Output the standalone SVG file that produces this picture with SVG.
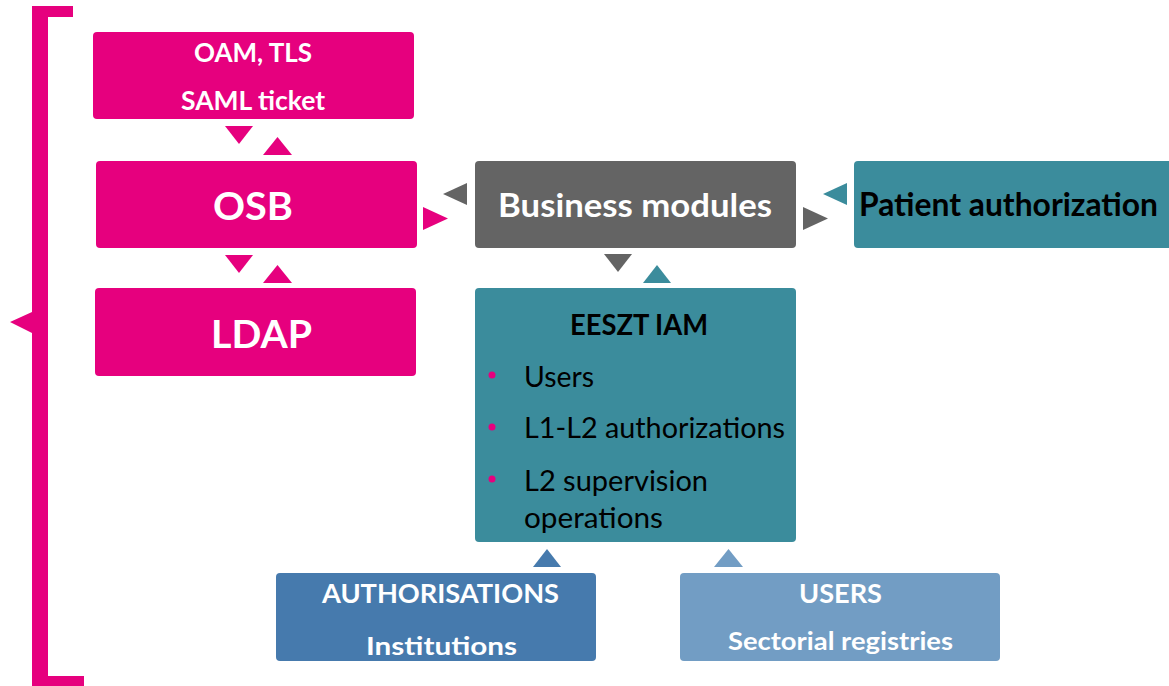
<svg xmlns="http://www.w3.org/2000/svg" width="1169" height="686" viewBox="0 0 1169 686">
<style>
.pink{fill:#E6007E}
.gray{fill:#646464}
.teal{fill:#3B8C9C}
.dblue{fill:#467AAD}
.lblue{fill:#729DC4}
text{font-family:Lato,"Liberation Sans",sans-serif}
.wb{fill:#fff;font-weight:bold}
.kb{fill:#000;font-weight:bold}
.kr{fill:#000;font-weight:normal}
</style>
<rect width="1169" height="686" fill="#fff"/>
<g id="bracket">
<path class="pink" d="M32,6 H73 V17 H48 V676 H84 V686 H32 V333 L10,322 L32,312 Z"/>
</g>
<g id="connectors">
<polygon class="pink" points="225,126 253,126 239,144"/>
<polygon class="pink" points="263,155 292,155 277.5,137"/>
<polygon class="pink" points="225,255 253,255 239,273"/>
<polygon class="pink" points="263,283 292,283 277.5,265"/>
<polygon class="pink" points="423,207 423,230 448,218.5"/>
<polygon class="gray" points="467,183 467,205 443,194"/>
<polygon class="gray" points="803,207 803,230 828,218.5"/>
<polygon class="teal" points="847,183 847,205 823,194"/>
<polygon class="gray" points="604,254 632,254 618,272"/>
<polygon class="teal" points="643,283 671,283 657,265"/>
<polygon class="dblue" points="533,567 561,567 547,549"/>
<polygon class="lblue" points="714,567 743,567 728.5,549"/>
</g>
<g id="oam">
<rect class="pink" x="93" y="32" width="321" height="87" rx="4"/>
<text class="wb" x="194" y="62" font-size="26" textLength="118" lengthAdjust="spacingAndGlyphs">OAM, TLS</text>
<text class="wb" x="181" y="110" font-size="26" textLength="144" lengthAdjust="spacingAndGlyphs">SAML ticket</text>
</g>
<g id="osb">
<rect class="pink" x="96" y="161" width="321" height="87" rx="4"/>
<text class="wb" x="213" y="220" font-size="39" textLength="80" lengthAdjust="spacingAndGlyphs">OSB</text>
</g>
<g id="ldap">
<rect class="pink" x="95" y="288" width="321" height="88" rx="4"/>
<text class="wb" x="211" y="348" font-size="39" textLength="101" lengthAdjust="spacingAndGlyphs">LDAP</text>
</g>
<g id="business">
<rect class="gray" x="475" y="161" width="321" height="87" rx="4"/>
<text class="wb" x="498" y="217" font-size="33" textLength="274" lengthAdjust="spacingAndGlyphs">Business modules</text>
</g>
<g id="patient">
<rect class="teal" x="854" y="161" width="330" height="87" rx="4"/>
<text class="kb" x="859" y="216" font-size="32" textLength="299" lengthAdjust="spacingAndGlyphs">Patient authorization</text>
</g>
<g id="eeszt">
<rect class="teal" x="475" y="288" width="321" height="254" rx="4"/>
<text class="kb" x="570" y="335" font-size="28" textLength="138" lengthAdjust="spacingAndGlyphs">EESZT IAM</text>
<circle class="pink" cx="492" cy="375" r="3.5"/>
<circle class="pink" cx="492" cy="427" r="3.5"/>
<circle class="pink" cx="492" cy="479" r="3.5"/>
<text class="kr" x="524" y="387" font-size="28" textLength="70" lengthAdjust="spacingAndGlyphs">Users</text>
<text class="kr" x="524" y="438" font-size="28" textLength="261" lengthAdjust="spacingAndGlyphs">L1-L2 authorizations</text>
<text class="kr" x="524" y="491" font-size="28" textLength="184" lengthAdjust="spacingAndGlyphs">L2 supervision</text>
<text class="kr" x="524" y="528" font-size="28" textLength="139" lengthAdjust="spacingAndGlyphs">operations</text>
</g>
<g id="authorisations">
<rect class="dblue" x="276" y="573" width="320" height="88" rx="4"/>
<text class="wb" x="322" y="603" font-size="26" textLength="237" lengthAdjust="spacingAndGlyphs">AUTHORISATIONS</text>
<text class="wb" x="366" y="655" font-size="25" textLength="151" lengthAdjust="spacingAndGlyphs">Institutions</text>
</g>
<g id="users">
<rect class="lblue" x="680" y="573" width="320" height="88" rx="4"/>
<text class="wb" x="799" y="603" font-size="26" textLength="83" lengthAdjust="spacingAndGlyphs">USERS</text>
<text class="wb" x="728" y="650" font-size="25" textLength="225" lengthAdjust="spacingAndGlyphs">Sectorial registries</text>
</g>
</svg>
